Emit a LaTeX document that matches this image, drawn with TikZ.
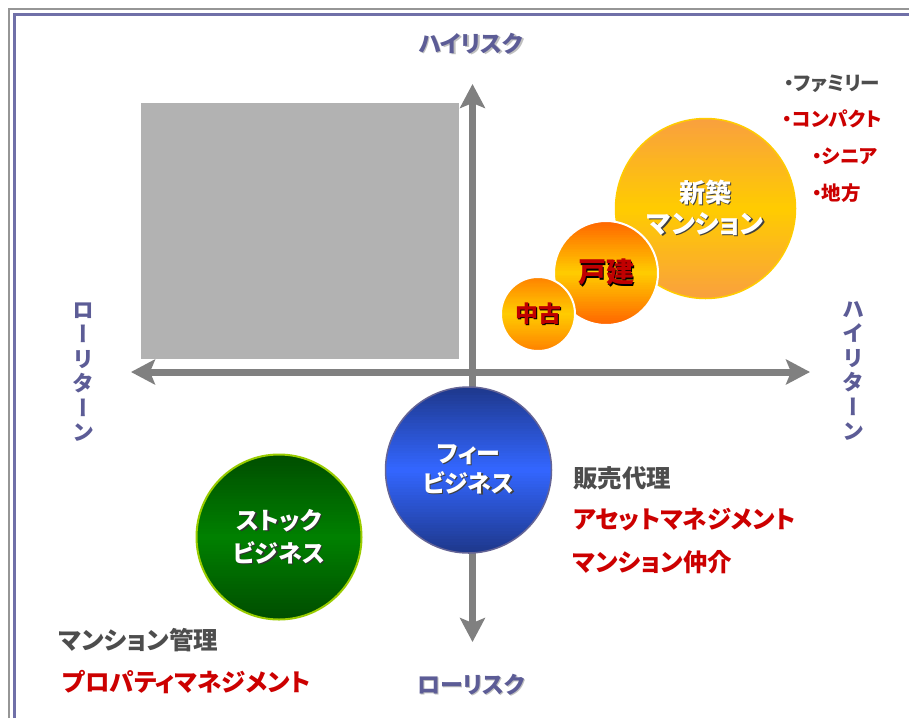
\documentclass[tikz,border=0pt]{standalone}
\usepackage{fontspec}
\setmainfont{Noto Sans CJK JP}[RawFeature=+palt]
\newfontfamily\vjp{Noto Sans CJK JP}[RawFeature=+vert]
\usetikzlibrary{arrows.meta}
\definecolor{framegray}{RGB}{150,150,150}
\definecolor{frameblue}{RGB}{112,112,168}
\definecolor{boxgray}{RGB}{178,178,178}
\definecolor{axisgray}{RGB}{128,128,128}
\definecolor{axislab}{RGB}{92,92,150}
\definecolor{txtgray}{RGB}{77,77,77}
\definecolor{txtred}{RGB}{204,0,0}
\definecolor{dred}{RGB}{192,0,0}
\definecolor{orA}{RGB}{249,160,62}
\definecolor{yelA}{RGB}{255,204,0}
\definecolor{orB}{RGB}{255,102,0}
\definecolor{orC}{RGB}{255,130,0}
\definecolor{navy}{RGB}{30,56,140}
\definecolor{brblue}{RGB}{51,102,255}
\definecolor{bordblue}{RGB}{100,100,150}
\definecolor{dgreen}{RGB}{0,78,0}
\definecolor{mgreen}{RGB}{0,128,0}
\definecolor{ygreen}{RGB}{153,204,0}
\newcommand\shtext[3]{{\color{#2}\rlap{\hspace{1.3pt}\raisebox{-1.3pt}{#3}}}{\color{#1}#3}}
% vertical three-stop gradient disc: x, y, r, top, middle, bottom
\newcommand\gradcirc[6]{%
  \begin{scope}
    \clip (#1,#2) circle[radius=#3];
    \foreach \i in {0,...,59}{%
      \pgfmathsetmacro\gt{\i/59}%
      \ifdim\gt pt<0.5pt
        \pgfmathtruncatemacro\gp{100*(1-2*\gt)}%
        \colorlet{gcol}{#4!\gp!#5}%
      \else
        \pgfmathtruncatemacro\gp{100*(2*\gt-1)}%
        \colorlet{gcol}{#6!\gp!#5}%
      \fi
      \fill[gcol] (#1-#3,#2-#3+\i*#3/30) rectangle ++(2*#3,#3/30+0.6);
    }
  \end{scope}}
\tikzset{
  axis/.style={line width=7pt, draw=axisgray, {Stealth[width=25pt,length=24pt,inset=5pt]}-{Stealth[width=25pt,length=24pt,inset=5pt]}},
  axl/.style={font=\fontsize{23}{24}\selectfont\bfseries, inner sep=0},
  vlab/.style={font=\vjp\fontsize{22}{24.5}\selectfont\bfseries, align=center, inner sep=0},
  bubble/.style={circle, inner sep=0, align=center},
  lbl/.style={font=\fontsize{24.5}{26}\selectfont\bfseries, anchor=west, inner sep=0},
  lst/.style={font=\fontsize{19.5}{21}\selectfont\bfseries, anchor=west, inner sep=0},
}
\begin{document}
\begin{tikzpicture}[x=1pt,y=-1pt]
\useasboundingbox (0,0) rectangle (909,718);
\fill[white] (0,0) rectangle (909,718);
% frame
\draw[framegray, line width=2pt] (9,718) -- (9,8.5) -- (909,8.5);
\draw[frameblue, line width=2.2pt] (14.5,718) -- (14.5,14.5) -- (909,14.5);
% placeholder box
\node[fill=boxgray, minimum width=318pt, minimum height=256pt, inner sep=0] (box) at (300,231) {};
% axes
\coordinate (vtop) at (472.5,84);
\coordinate (vbot) at (472.5,642);
\coordinate (hleft) at (131,372);
\coordinate (hright) at (810,372);
\draw[axis] (vbot) -- (vtop);
\draw[axis] (hleft) -- (hright);
% axis labels
\node[axl] (hrisk) at (471,44) {\shtext{axislab}{black!25}{ハイリスク}};
\node[axl] (lrisk) at (471,685) {\shtext{axislab}{black!25}{ローリスク}};
\node[vlab, text=axislab] (lret) at (83,372) {ロ\\ー\\リ\\タ\\ー\\ン};
\node[vlab, text=axislab] (hret) at (853,371) {ハ\\イ\\リ\\タ\\ー\\ン};
% orange bubbles
\gradcirc{705.5}{208.5}{90}{orA}{yelA}{orA}
\node[bubble, minimum size=180pt, draw=yelA, line width=1.5pt,
  font=\fontsize{26}{31}\selectfont\bfseries] (shinchiku) at (705.5,208.5)
  {\shtext{white}{black!75}{新築}\\\shtext{white}{black!75}{マンション}};
\gradcirc{606}{273}{52}{orB}{yelA}{orB}
\node[bubble, minimum size=104pt, draw=white, line width=2pt,
  font=\fontsize{28}{30}\selectfont\bfseries] (kodate) at (606,273)
  {\shtext{dred}{black}{戸建}};
\gradcirc{538}{314}{37}{orC}{yelA}{orC}
\node[bubble, minimum size=74pt, draw=white, line width=2pt,
  font=\fontsize{23}{25}\selectfont\bfseries] (chuko) at (538,314)
  {\shtext{dred}{black}{中古}};
% blue bubble
\gradcirc{468.5}{470}{83}{navy}{brblue}{navy}
\node[bubble, minimum size=166pt, draw=bordblue, line width=1.5pt,
  font=\fontsize{24}{30}\selectfont\bfseries] (fee) at (468.5,470)
  {\shtext{white}{black!75}{フィー}\\\shtext{white}{black!75}{ビジネス}};
% green bubble
\gradcirc{279}{537}{82.5}{dgreen}{mgreen}{dgreen}
\node[bubble, minimum size=165pt, draw=ygreen, line width=2pt,
  font=\fontsize{24}{33}\selectfont\bfseries] (stock) at (279,537)
  {\shtext{white}{black!80}{ストック}\\\shtext{white}{black!80}{ビジネス}};
% right list
\node[lst, text=txtgray] (l1) at (784,84) {・ファミリー};
\node[lst, text=txtred] (l2) at (782,119) {・コンパクト};
\node[lst, text=txtred] (l3) at (812,156) {・シニア};
\node[lst, text=txtred] (l4) at (812,193) {・地方};
% fee labels
\node[lbl, text=txtgray] (hanbai) at (573,478) {販売代理};
\node[lbl, text=txtred] (asset) at (573,520) {アセットマネジメント};
\node[lbl, text=txtred] (chukai) at (573,562) {マンション仲介};
% stock labels
\node[lbl, text=txtgray] (kanri) at (59,640) {マンション管理};
\node[lbl, text=txtred] (prop) at (62,682) {プロパティマネジメント};
\end{tikzpicture}
\end{document}
